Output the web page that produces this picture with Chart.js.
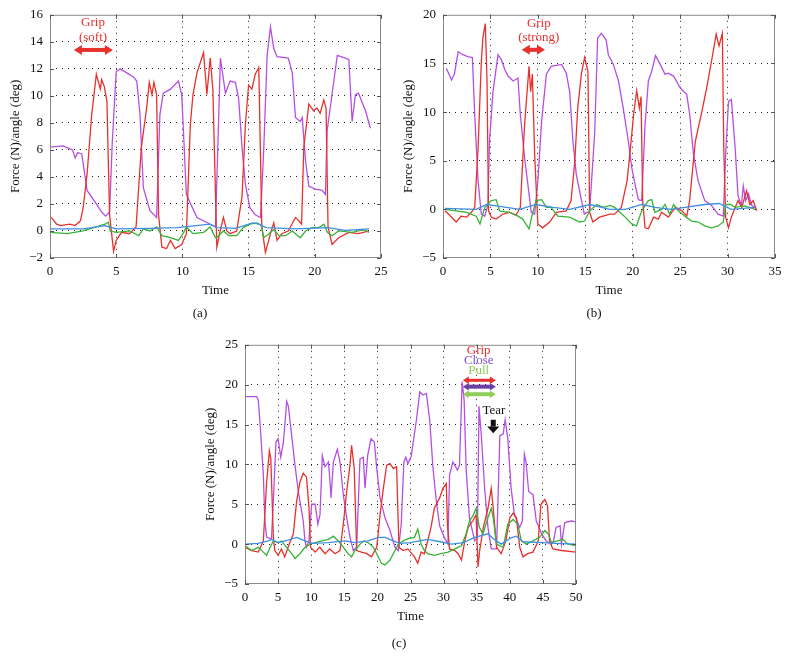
<!DOCTYPE html>
<html>
<head>
<meta charset="utf-8">
<script src="https://cdn.jsdelivr.net/npm/chart.js@4.4.1/dist/chart.umd.min.js"></script>
<style>
  body { margin: 0; background: #fff; width: 788px; height: 658px; position: relative; overflow: hidden; }
  canvas { position: absolute; }
  .cap { position: absolute; width: 40px; margin-left: -20px; text-align: center;
         font: 13px "Liberation Serif", serif; color: #111; line-height: 16px; }
</style>
</head>
<body>
<canvas id="chartA" width="394" height="330" style="left:0;top:0"></canvas>
<canvas id="chartB" width="394" height="330" style="left:394px;top:0"></canvas>
<canvas id="chartC" width="394" height="328" style="left:200px;top:330px"></canvas>
<div class="cap" style="left:200px;top:305px">(a)</div>
<div class="cap" style="left:594px;top:305px">(b)</div>
<div class="cap" style="left:399px;top:635px">(c)</div>
<script>
// ---- values: [time, value] ----
// (a) soft grip
const purpleA = [[0,6.2],[1,6.3],[1.7,6.0],[1.9,5.4],[2.1,5.8],[2.4,5.7],[2.8,3.0],[3.5,2.0],[3.9,1.4],[4.2,1.1],[4.5,1.4],[4.7,6.5],[5.0,11.8],[5.3,12.0],[5.8,11.7],[6.3,11.4],[6.55,11.1],[6.8,8.6],[7.05,3.2],[7.55,1.5],[8.05,1.0],[8.3,8.6],[8.55,10.2],[9.1,10.5],[9.7,11.1],[9.95,10.1],[10.3,2.7],[11.1,1.0],[12.1,0.5],[12.5,0.3],[12.87,12.8],[13.25,10.2],[13.6,11.1],[14.0,11.0],[14.25,9.8],[14.5,6.2],[14.76,3.45],[15.1,1.7],[15.5,1.2],[15.9,1.0],[16.15,6.2],[16.4,13.0],[16.65,15.1],[16.9,13.5],[17.15,12.9],[18.0,12.8],[18.3,11.7],[18.54,8.4],[18.9,8.1],[19.05,8.4],[19.3,5.2],[19.55,3.3],[20.05,3.1],[20.55,3.0],[20.8,2.7],[20.93,7.4],[21.3,10.1],[21.7,13.0],[22.3,12.8],[22.57,12.7],[22.82,8.1],[23.07,10.1],[23.3,10.2],[23.83,8.9],[24.2,7.6]];
const redA = [[0.1,1.0],[0.5,0.5],[0.8,0.4],[1.5,0.5],[1.9,0.4],[2.3,0.75],[2.5,1.7],[2.8,4.2],[3.15,8.6],[3.5,11.6],[3.8,10.5],[3.9,11.2],[4.1,10.7],[4.3,9.6],[4.5,1.2],[4.8,-1.5],[5.0,-0.7],[5.4,-0.1],[6.0,-0.2],[6.5,0.3],[6.9,6.2],[7.3,9.1],[7.5,11.0],[7.7,10.1],[7.85,11.0],[8.05,10.1],[8.2,1.2],[8.45,-1.2],[8.8,-1.3],[9.1,-0.7],[9.45,-1.3],[9.95,-1.0],[10.3,-0.2],[10.6,7.9],[10.8,10.1],[11.1,11.7],[11.6,13.2],[11.85,10.1],[12.1,12.8],[12.3,10.5],[12.6,-1.2],[12.85,0.0],[13.1,1.0],[13.35,0.0],[13.6,-0.2],[14.1,0.0],[14.5,2.5],[14.76,7.9],[15.0,10.8],[15.25,10.5],[15.5,11.6],[15.77,12.1],[16.0,0.3],[16.27,-1.6],[16.65,-0.2],[16.9,0.6],[17.15,-0.7],[17.5,-0.2],[18.0,0.0],[18.54,1.0],[18.8,0.75],[19.0,0.5],[19.17,6.2],[19.55,9.4],[19.9,8.9],[20.15,9.1],[20.4,8.7],[20.68,9.7],[20.85,9.1],[21.0,0.3],[21.3,-1.0],[21.8,-0.5],[22.57,-0.1],[23.3,-0.2],[24.1,0.0]];
const greenA = [[0,-0.1],[1.3,-0.2],[2.5,0.0],[3.3,0.25],[4.15,0.5],[4.4,0.65],[4.55,0.0],[5.0,-0.1],[6.0,0.0],[6.7,-0.35],[7.05,0.15],[7.55,0.0],[8.05,0.3],[8.45,-0.35],[9.1,-0.5],[9.7,-0.7],[10.05,-0.2],[10.3,0.3],[10.8,-0.2],[11.6,-0.1],[12.1,0.3],[12.5,-0.5],[12.74,-0.35],[13.1,0.0],[13.5,-0.35],[14.1,-0.35],[14.6,0.25],[15.1,0.5],[15.64,0.6],[15.95,0.4],[16.15,-0.5],[16.5,-0.25],[16.9,0.1],[17.3,-0.35],[17.8,-0.35],[18.3,0.0],[18.9,-0.5],[19.3,0.0],[19.8,0.25],[20.3,0.25],[20.7,0.5],[20.95,-0.1],[21.3,-0.35],[21.8,0.0],[22.8,-0.1],[23.7,0.1],[24.1,-0.1]];
const blueA = [[0,0.15],[2.5,0.15],[4.15,0.4],[5.0,0.15],[7.5,0.2],[9.6,0.25],[12.1,0.5],[12.6,0.25],[14.0,0.2],[15.3,0.6],[15.8,0.5],[16.3,0.25],[18.5,0.15],[21.0,0.25],[22.3,0.05],[24.1,0.15]];
const xTicksA = [0, 5, 10, 15, 20, 25];
const yTicksA = [-2, 0, 2, 4, 6, 8, 10, 12, 14, 16];

// (b) strong grip
const purpleB = [[0.35,14.5],[0.9,13.3],[1.2,13.9],[1.6,16.2],[2.1,15.9],[2.6,15.7],[3.1,15.6],[3.34,9.8],[3.7,2.9],[4.04,-0.5],[4.4,-0.7],[4.74,0.5],[4.9,7.0],[5.27,12.1],[5.8,15.9],[6.15,15.4],[6.5,14.4],[6.85,13.7],[7.4,13.2],[7.9,13.5],[8.15,9.8],[8.6,5.3],[9.07,1.6],[9.3,-0.3],[9.66,-0.5],[10.0,2.9],[10.4,9.1],[10.9,13.9],[11.4,14.7],[12.5,14.9],[13.0,14.0],[13.35,12.1],[13.7,7.0],[14.05,3.6],[14.6,0.9],[14.9,-0.5],[15.46,-0.15],[16.0,8.0],[16.3,17.6],[16.7,18.1],[17.2,17.4],[17.43,15.9],[17.96,14.9],[18.5,13.2],[19.0,10.4],[19.54,7.0],[19.9,4.3],[20.24,2.6],[20.6,1.0],[20.95,0.9],[21.3,8.7],[21.65,13.2],[22.0,14.2],[22.4,15.8],[22.9,14.9],[23.4,13.9],[23.75,14.0],[24.3,13.7],[24.6,13.2],[25.0,12.5],[25.7,11.8],[26.0,9.8],[26.4,5.7],[26.9,2.9],[27.6,0.9],[28.3,0.4],[29.0,-0.5],[29.55,-0.7],[29.8,5.7],[30.1,11.1],[30.4,11.3],[30.8,6.3],[31.1,1.4],[31.45,0.4],[31.66,2.4],[31.9,0.9],[32.2,1.6],[32.55,0.4],[32.9,0.2]];
const redB = [[0.2,-0.15],[0.7,-0.6],[1.4,-1.3],[1.9,-0.7],[2.5,-0.8],[3.0,-0.3],[3.34,0.2],[3.7,6.3],[4.04,15.2],[4.2,17.6],[4.46,19.1],[4.64,13.2],[4.8,-0.15],[5.1,-0.8],[5.6,-1.0],[6.3,-0.5],[7.0,-0.3],[7.7,-0.6],[8.15,0.2],[8.6,8.7],[9.07,14.7],[9.24,12.1],[9.42,13.9],[9.66,5.7],[10.0,-1.5],[10.5,-1.9],[11.25,-1.3],[11.95,-0.3],[13.0,-0.15],[13.5,0.9],[13.9,5.0],[14.2,10.4],[14.6,14.0],[14.93,15.6],[15.28,14.2],[15.46,-0.3],[15.8,-1.3],[16.5,-0.8],[17.6,-0.5],[18.1,-0.5],[18.8,0.2],[19.4,2.9],[19.7,5.7],[20.1,9.8],[20.42,12.2],[20.7,10.4],[20.88,11.6],[21.05,0.9],[21.3,-1.9],[21.65,-2.0],[22.2,-0.8],[22.7,-1.0],[23.05,-0.3],[23.76,-0.8],[24.5,0.2],[25.2,-0.15],[25.7,-0.7],[26.0,0.9],[26.6,7.0],[27.3,10.1],[27.8,12.5],[28.3,15.2],[28.8,18.0],[29.1,16.8],[29.45,18.1],[29.6,6.3],[29.8,-0.8],[30.1,-1.9],[30.4,-0.8],[30.8,0.2],[31.1,0.9],[31.5,0.2],[32.0,1.9],[32.35,0.5],[32.7,0.9],[33.07,-0.15]];
const greenB = [[0.2,0.0],[1.4,-0.15],[2.5,-0.3],[3.5,-0.7],[3.9,-1.5],[4.4,0.2],[5.1,0.9],[5.6,1.0],[5.97,-0.15],[7.0,-0.3],[7.9,-0.7],[8.4,-1.0],[9.07,-2.0],[9.42,-0.5],[9.8,0.9],[10.4,1.0],[10.9,0.2],[11.4,0.2],[12.1,-0.7],[13.35,-0.8],[14.4,-1.3],[14.93,-1.2],[15.46,-0.15],[16.2,0.5],[16.9,0.2],[17.6,0.4],[18.1,0.2],[19.2,-0.8],[19.9,-1.5],[20.4,-1.7],[20.95,-0.15],[21.65,0.9],[22.0,1.0],[22.35,-0.3],[23.05,0.0],[23.4,0.5],[23.9,-0.5],[24.3,0.5],[24.8,-0.15],[25.5,-0.7],[26.2,-1.2],[26.9,-1.3],[27.6,-1.7],[28.3,-1.9],[29.0,-1.7],[29.55,-1.3],[29.8,0.5],[30.3,0.5],[30.8,0.2],[31.8,0.35],[32.9,0.0]];
const blueB = [[0.2,0.1],[3.5,0.0],[4.6,0.5],[5.6,0.35],[8.1,0.0],[9.8,0.5],[11.6,0.2],[13.35,0.0],[15.5,0.5],[17.6,0.0],[19.2,0.0],[21.0,0.5],[22.35,0.2],[24.1,0.0],[25.5,0.2],[27.6,0.5],[29.1,0.6],[30.4,0.0],[32.9,0.2]];
const xTicksB = [0, 5, 10, 15, 20, 25, 30, 35];
const yTicksB = [-5, 0, 5, 10, 15, 20];

// (c) grip, close, pull, tear
const purpleC = [[0,18.5],[1.76,18.5],[2.0,18.1],[2.27,15.2],[2.77,8.7],[3.0,2.9],[3.27,0.85],[4.0,0.65],[4.28,5.4],[4.68,12.8],[5.0,13.2],[5.4,10.9],[5.8,12.8],[6.3,17.9],[6.55,17.3],[7.05,13.6],[7.55,9.9],[8.05,6.6],[8.8,2.9],[9.06,0.4],[9.3,-0.4],[9.65,0.4],[10.07,5.0],[10.6,5.0],[11.0,2.5],[11.33,3.7],[11.68,11.1],[12.08,9.7],[12.6,10.3],[12.85,7.8],[13.0,5.8],[13.35,10.3],[13.95,11.9],[14.35,10.3],[14.85,6.2],[15.36,3.3],[15.86,0.85],[16.36,-0.8],[16.87,-0.4],[17.37,10.7],[17.87,10.9],[18.13,7.0],[18.53,11.1],[19.03,13.2],[19.54,12.8],[19.9,9.5],[20.4,5.8],[21.15,3.3],[21.9,1.7],[22.66,-0.4],[23.16,-0.8],[23.6,2.5],[24.0,10.3],[24.3,10.9],[24.6,10.1],[25.1,11.0],[25.9,15.6],[26.4,19.1],[26.9,18.7],[27.4,18.9],[27.9,15.6],[28.4,9.5],[28.9,5.4],[29.4,2.3],[30.1,0.85],[30.66,0.0],[30.9,8.7],[31.4,10.3],[32.1,9.3],[32.4,9.9],[32.8,20.4],[33.1,18.1],[33.4,9.5],[33.9,3.3],[34.7,0.4],[35.1,0.8],[35.35,17.3],[35.7,13.6],[36.2,7.0],[36.7,2.1],[37.2,-0.6],[38.0,-0.6],[38.5,13.6],[39.0,13.8],[39.3,15.6],[39.7,13.2],[40.2,7.0],[40.7,3.7],[41.5,2.1],[41.9,2.9],[42.2,11.3],[42.45,10.3],[42.85,6.6],[43.5,6.2],[44.0,2.9],[44.8,1.3],[45.5,0.4],[46.3,0.0],[46.6,0.4],[47.0,2.1],[47.6,2.3],[47.8,0.0],[48.3,2.7],[49.3,2.9],[50,2.8]];
const redC = [[0,-0.4],[1.0,-0.8],[2.0,-1.0],[2.77,0.4],[3.27,7.8],[3.68,11.7],[3.9,10.7],[4.28,0.85],[4.5,-0.8],[5.0,-1.4],[5.5,-0.6],[6.0,-1.6],[6.5,-0.4],[7.3,1.3],[7.8,5.4],[8.3,7.8],[8.8,8.9],[9.3,8.4],[9.67,4.5],[9.9,-0.4],[10.6,-1.0],[11.3,-0.4],[12.1,-1.2],[12.8,-0.6],[13.6,-1.2],[14.35,-0.8],[14.85,2.5],[15.36,6.6],[15.86,9.9],[16.1,12.4],[16.5,9.5],[16.87,-0.8],[17.6,-1.0],[18.4,-1.2],[19.1,-1.6],[19.9,-0.4],[20.4,3.7],[20.9,7.0],[21.4,9.9],[21.9,10.1],[22.4,9.5],[22.9,9.7],[23.26,-0.4],[23.9,-0.8],[24.6,-0.6],[25.6,-1.6],[26.1,-2.4],[26.6,-1.0],[27.1,-1.2],[27.6,0.4],[28.1,2.1],[28.6,4.5],[29.4,5.8],[29.9,7.0],[30.4,7.6],[30.6,2.1],[30.9,-0.6],[31.7,-0.8],[32.2,-1.2],[32.7,-2.0],[33.2,0.4],[33.7,2.1],[34.4,2.9],[34.9,3.7],[35.2,-2.85],[35.45,-0.8],[36.0,2.1],[36.7,4.5],[37.2,7.0],[37.5,4.5],[38.0,-0.4],[38.7,-1.2],[39.4,0.4],[40.0,3.3],[40.5,3.9],[41.0,3.3],[41.5,-0.4],[42.0,-1.6],[42.7,-1.2],[43.5,-1.0],[44.3,0.4],[44.7,5.0],[45.3,5.6],[45.7,4.8],[46.0,0.4],[46.5,-0.6],[47.8,-0.8],[50,-1.0]];
const greenC = [[0,-0.2],[1.0,-0.8],[2.0,-0.4],[2.77,-1.0],[3.27,-1.4],[3.8,-0.4],[4.28,0.4],[5.0,0.2],[5.5,0.4],[6.3,-0.4],[7.05,-1.2],[7.55,-1.8],[8.3,-1.2],[9.06,-0.4],[9.8,0.0],[10.6,0.2],[11.6,0.4],[12.6,0.6],[13.35,1.0],[14.1,0.4],[14.85,-0.4],[15.6,-1.2],[16.1,-1.6],[16.6,-0.8],[17.4,0.0],[17.9,0.4],[18.6,0.2],[19.4,-0.4],[19.9,-1.2],[20.6,-2.4],[21.15,-2.6],[21.9,-2.0],[22.66,-0.8],[23.16,0.0],[23.9,0.4],[24.67,0.7],[25.6,0.85],[26.1,1.9],[26.6,0.0],[27.1,-0.8],[27.6,-1.2],[28.6,-1.4],[29.6,-1.2],[30.7,-1.0],[31.7,-0.6],[32.7,-0.2],[33.4,1.3],[33.9,2.9],[34.4,3.5],[34.9,4.5],[35.4,2.1],[35.95,1.3],[36.7,3.3],[37.2,4.5],[37.5,3.3],[38.0,0.0],[39.0,-0.4],[39.7,2.5],[40.5,3.1],[41.2,2.5],[41.75,0.4],[42.5,0.0],[43.5,0.4],[44.5,0.85],[45.3,1.7],[45.8,1.3],[46.3,0.2],[47.2,0.4],[48.0,0.6],[48.8,0.0],[50,-0.2]];
const blueC = [[0,0.0],[2.0,0.1],[3.5,0.4],[4.0,0.6],[5.0,0.2],[6.5,0.5],[7.8,0.85],[9.06,0.4],[10.07,0.1],[12.6,0.2],[15.1,0.4],[16.6,0.2],[18.6,0.4],[20.14,0.85],[21.15,0.85],[22.4,0.4],[23.4,0.1],[25.0,0.2],[27.6,0.6],[29.5,0.3],[31.2,0.0],[33.0,0.2],[34.7,0.85],[36.7,1.3],[37.6,0.6],[38.7,0.0],[40.2,0.8],[41.0,1.0],[42.0,0.3],[44.8,0.2],[47.0,0.1],[50,0.0]];
const xTicksC = [0, 5, 10, 15, 20, 25, 30, 35, 40, 45, 50];
const yTicksC = [-5, 0, 5, 10, 15, 20, 25];

const RED = '#e8302c', PURPLE = '#b54fe4', GREEN = '#38b238', BLUE = '#3f8fe0';
const SERIF = '"Liberation Serif", "Times New Roman", serif';

// frame, inward ticks, axis titles and the grip/tear notes
const notesPlugin = {
    id: 'notes',
    afterDraw(chart, args, opts) {
        const ctx = chart.ctx;
        const a = chart.chartArea;
        const xs = chart.scales.x, ys = chart.scales.y;
        ctx.save();
        ctx.strokeStyle = '#8a8a8a';
        ctx.lineWidth = 1;
        ctx.strokeRect(a.left + 0.5, a.top + 0.5, a.right - a.left - 1, a.bottom - a.top - 1);

        // short tick marks pointing inside
        ctx.strokeStyle = '#555';
        ctx.beginPath();
        xs.ticks.forEach(t => {
            const px = Math.round(xs.getPixelForValue(t.value)) + 0.5;
            ctx.moveTo(px, a.bottom); ctx.lineTo(px, a.bottom - 4);
            ctx.moveTo(px, a.top); ctx.lineTo(px, a.top + 4);
        });
        ys.ticks.forEach(t => {
            const py = Math.round(ys.getPixelForValue(t.value)) + 0.5;
            ctx.moveTo(a.left, py); ctx.lineTo(a.left + 4, py);
            ctx.moveTo(a.right, py); ctx.lineTo(a.right - 4, py);
        });
        ctx.stroke();

        // axis titles
        ctx.fillStyle = '#111';
        ctx.font = '13px ' + SERIF;
        ctx.textAlign = 'center';
        ctx.textBaseline = 'middle';
        ctx.fillText(opts.xTitle, (a.left + a.right) / 2, a.bottom + 33);
        ctx.save();
        ctx.translate(a.left - 34, (a.top + a.bottom) / 2);
        ctx.rotate(-Math.PI / 2);
        ctx.fillText(opts.yTitle, 0, 0);
        ctx.restore();

        // notes in data coordinates
        (opts.items || []).forEach(it => {
            if (it.text) {
                ctx.fillStyle = it.color;
                ctx.font = '13px ' + SERIF;
                ctx.fillText(it.text, xs.getPixelForValue(it.x), ys.getPixelForValue(it.y));
            } else if (it.arrow) {
                const x1 = xs.getPixelForValue(it.x1), x2 = xs.getPixelForValue(it.x2);
                const py = ys.getPixelForValue(it.y);
                const w = it.w, h = it.head;
                ctx.fillStyle = it.color;
                ctx.fillRect(x1 + h - 1, py - w / 2, x2 - x1 - 2 * h + 2, w);
                ctx.beginPath();
                ctx.moveTo(x1, py); ctx.lineTo(x1 + h, py - h * 0.62); ctx.lineTo(x1 + h, py + h * 0.62);
                ctx.closePath();
                ctx.moveTo(x2, py); ctx.lineTo(x2 - h, py - h * 0.62); ctx.lineTo(x2 - h, py + h * 0.62);
                ctx.closePath();
                ctx.fill();
            } else if (it.down) {
                const px = xs.getPixelForValue(it.x);
                const y1 = ys.getPixelForValue(it.y1), y2 = ys.getPixelForValue(it.y2);
                ctx.fillStyle = '#111';
                ctx.fillRect(px - 2.5, y1, 5, (y2 - y1) * 0.5);
                ctx.beginPath();
                ctx.moveTo(px - 6, y1 + (y2 - y1) * 0.5);
                ctx.lineTo(px + 6, y1 + (y2 - y1) * 0.5);
                ctx.lineTo(px, y2);
                ctx.closePath();
                ctx.fill();
            }
        });
        ctx.restore();
    }
};

function line(points, color) {
    return {
        data: points.map(p => ({ x: p[0], y: p[1] })),
        borderColor: color,
        borderWidth: 1.3,
        pointRadius: 0,
        tension: 0,
        fill: false
    };
}

function axis(ticks, fitKey, fitSize, pad) {
    const lo = ticks[0], hi = ticks[ticks.length - 1];
    return {
        type: 'linear',
        min: lo,
        max: hi,
        afterFit: s => { s[fitKey] = fitSize; },
        afterBuildTicks: s => { s.ticks = ticks.map(v => ({ value: v })); },
        grid: {
            drawTicks: false,
            lineWidth: 1,
            color: c => (c.tick && (c.tick.value === lo || c.tick.value === hi)) ? 'rgba(0,0,0,0)' : '#222'
        },
        border: { display: false, dash: [1, 5] },
        ticks: {
            padding: pad,
            color: '#111',
            font: { family: SERIF, size: 13 },
            callback: v => String(v).replace('-', '\u2212')
        }
    };
}

function makeChart(id, series, xTicks, yTicks, yWidth, xHeight, padding, items) {
    return new Chart(document.getElementById(id), {
        type: 'line',
        data: {
            datasets: [
                line(series[3], BLUE),
                line(series[2], GREEN),
                line(series[1], RED),
                line(series[0], PURPLE)
            ]
        },
        options: {
            responsive: false,
            animation: false,
            devicePixelRatio: 1,
            layout: { padding: padding },
            scales: {
                x: axis(xTicks, 'height', xHeight, 6),
                y: axis(yTicks, 'width', yWidth, 7)
            },
            plugins: {
                legend: { display: false },
                tooltip: { enabled: false },
                notes: { xTitle: 'Time', yTitle: 'Force (N)/angle (deg)', items: items }
            }
        },
        plugins: [notesPlugin]
    });
}

makeChart('chartA', [purpleA, redA, greenA, blueA], xTicksA, yTicksA, 50, 72,
    { left: 0, top: 14, right: 13, bottom: 0 },
    [
        { text: 'Grip', x: 3.25, y: 15.4, color: RED },
        { text: '(soft)', x: 3.25, y: 14.35, color: RED },
        { arrow: true, x1: 1.8, x2: 4.75, y: 13.4, w: 4, head: 8, color: RED }
    ]);

makeChart('chartB', [purpleB, redB, greenB, blueB], xTicksB, yTicksB, 49, 72,
    { left: 0, top: 14, right: 13, bottom: 0 },
    [
        { text: 'Grip', x: 10.1, y: 19.1, color: RED },
        { text: '(strong)', x: 10.1, y: 17.7, color: RED },
        { arrow: true, x1: 8.3, x2: 10.75, y: 16.4, w: 4, head: 8, color: RED }
    ]);

makeChart('chartC', [purpleC, redC, greenC, blueC], xTicksC, yTicksC, 45, 74,
    { left: 0, top: 11, right: 18, bottom: 0 },
    [
        { text: 'Grip', x: 35.3, y: 24.3, color: RED },
        { text: 'Close', x: 35.3, y: 23.0, color: '#7a4fd0' },
        { text: 'Pull', x: 35.3, y: 21.75, color: '#8fcf5a' },
        { arrow: true, x1: 32.9, x2: 37.9, y: 20.55, w: 3, head: 6, color: RED },
        { arrow: true, x1: 32.9, x2: 37.9, y: 19.75, w: 4, head: 6, color: '#6b3fa6' },
        { arrow: true, x1: 32.9, x2: 37.9, y: 18.8, w: 4, head: 6, color: '#8fcf5a' },
        { text: 'Tear', x: 37.6, y: 16.8, color: '#111' },
        { down: true, x: 37.5, y1: 15.6, y2: 13.9 }
    ]);
</script>
</body>
</html>
